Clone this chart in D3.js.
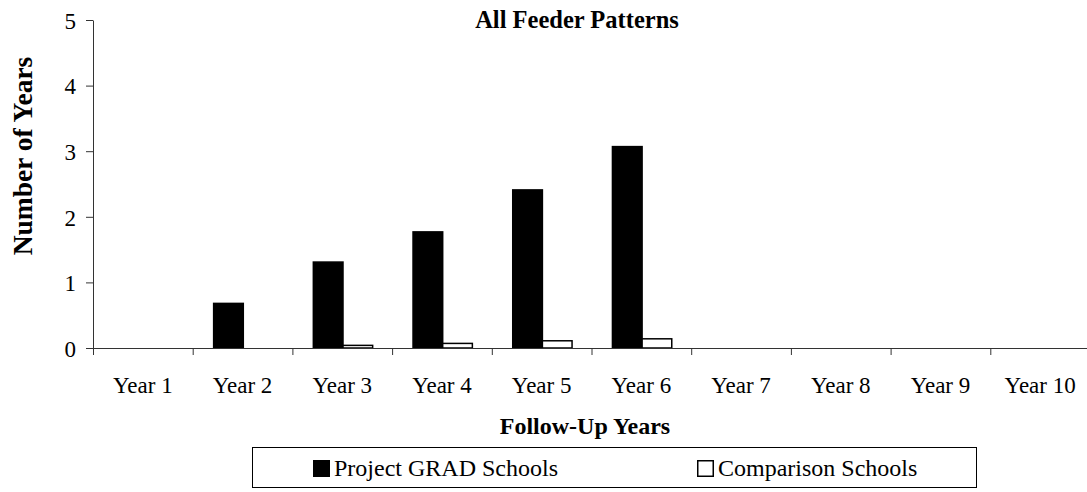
<!DOCTYPE html>
<html>
<head>
<meta charset="utf-8">
<script src="https://cdn.jsdelivr.net/npm/d3@7"></script>
<style>
  body { margin: 0; background: #fff; }
  text { font-family: "Liberation Serif", "Times New Roman", serif; fill: #000; }
</style>
</head>
<body>
<div id="chart"></div>
<script>
// chart values
var categories = ["Year 1", "Year 2", "Year 3", "Year 4", "Year 5", "Year 6", "Year 7", "Year 8", "Year 9", "Year 10"]
var seriesNames = ["Project GRAD Schools", "Comparison Schools"]
var gradValues = [0, 0.68, 1.31, 1.77, 2.41, 3.07, 0, 0, 0, 0]
var comparisonValues = [0, 0, 0.04, 0.07, 0.11, 0.14, 0, 0, 0, 0]
var yTicks = [0, 1, 2, 3, 4, 5]

var svgSize = { width: 1087, height: 492 }
var plot = { left: 93, right: 1090, top: 20, bottom: 348 }

var svg = d3.select("#chart").append("svg")
    .attr("width", svgSize.width)
    .attr("height", svgSize.height)

var xScale = d3.scaleBand()
    .domain(categories)
    .range([plot.left, plot.right])

// series sit side by side in the middle of each category
var seriesScale = d3.scaleBand()
    .domain(seriesNames)
    .range([xScale.bandwidth() * 0.21, xScale.bandwidth() * 0.805])

var yScale = d3.scaleLinear()
    .domain([0, 5])
    .range([plot.bottom, plot.top])

var rows = categories.map((c, i) => ({ cat: c, values: [gradValues[i], comparisonValues[i]] }))
var fills = ["#000", "#fff"]

var bars = svg.append("g").attr("id", "bars")
rows.forEach(row => {
    row.values.forEach((v, s) => {
        if (v <= 0) return
        bars.append("rect")
            .attr("x", xScale(row.cat) + seriesScale(seriesNames[s]))
            .attr("y", yScale(v))
            .attr("width", seriesScale.bandwidth())
            .attr("height", yScale(0) - yScale(v))
            .attr("fill", fills[s])
            .attr("stroke", "#000")
            .attr("stroke-width", 1.5)
    })
})

// y axis
var leftAxis = d3.axisLeft(yScale).tickValues(yTicks).tickFormat(d3.format("d"))
    .tickSize(7).tickSizeOuter(0).tickPadding(10)
var yAxis = svg.append("g").attr("transform", `translate(${plot.left},0)`).call(leftAxis)
yAxis.selectAll("text").style("font-size", "23px").attr("dy", "0.36em")

// x axis: tick marks on category edges, labels in the middle
var edgeScale = d3.scaleLinear().domain([0, categories.length]).range([plot.left, plot.right])
var edgeAxis = d3.axisBottom(edgeScale).ticks(categories.length).tickFormat("").tickSize(7).tickSizeOuter(0)
svg.append("g").attr("transform", `translate(0,${plot.bottom})`).call(edgeAxis)

var bottomAxis = d3.axisBottom(xScale).tickSize(0).tickSizeOuter(0)
var xAxis = svg.append("g").attr("transform", `translate(0,${plot.bottom})`).call(bottomAxis)
xAxis.select(".domain").remove()
xAxis.selectAll("text").style("font-size", "23px").attr("y", 45).attr("dy", null)

svg.selectAll(".domain, .tick line").attr("stroke", "#333")

// titles
svg.append("text")
    .attr("x", 577).attr("y", 28)
    .attr("text-anchor", "middle")
    .style("font-size", "24.5px").style("font-weight", "bold")
    .text("All Feeder Patterns")

svg.append("text")
    .attr("transform", "translate(32,156) rotate(-90)")
    .attr("text-anchor", "middle")
    .style("font-size", "27.5px").style("font-weight", "bold")
    .text("Number of Years")

svg.append("text")
    .attr("x", 585).attr("y", 434)
    .attr("text-anchor", "middle")
    .style("font-size", "24px").style("font-weight", "bold")
    .text("Follow-Up Years")

// legend
var legend = svg.append("g")
legend.append("rect")
    .attr("x", 252.5).attr("y", 447.5).attr("width", 724).attr("height", 40)
    .attr("fill", "#fff").attr("stroke", "#000")

var legendX = [313, 697]
seriesNames.forEach((name, s) => {
    legend.append("rect")
        .attr("x", legendX[s] + 0.75).attr("y", 460.75).attr("width", 15.5).attr("height", 15.5)
        .attr("fill", fills[s]).attr("stroke", "#000").attr("stroke-width", 1.5)
    legend.append("text")
        .attr("x", legendX[s] + 21).attr("y", 476)
        .style("font-size", "24px")
        .text(name)
})
</script>
</body>
</html>
